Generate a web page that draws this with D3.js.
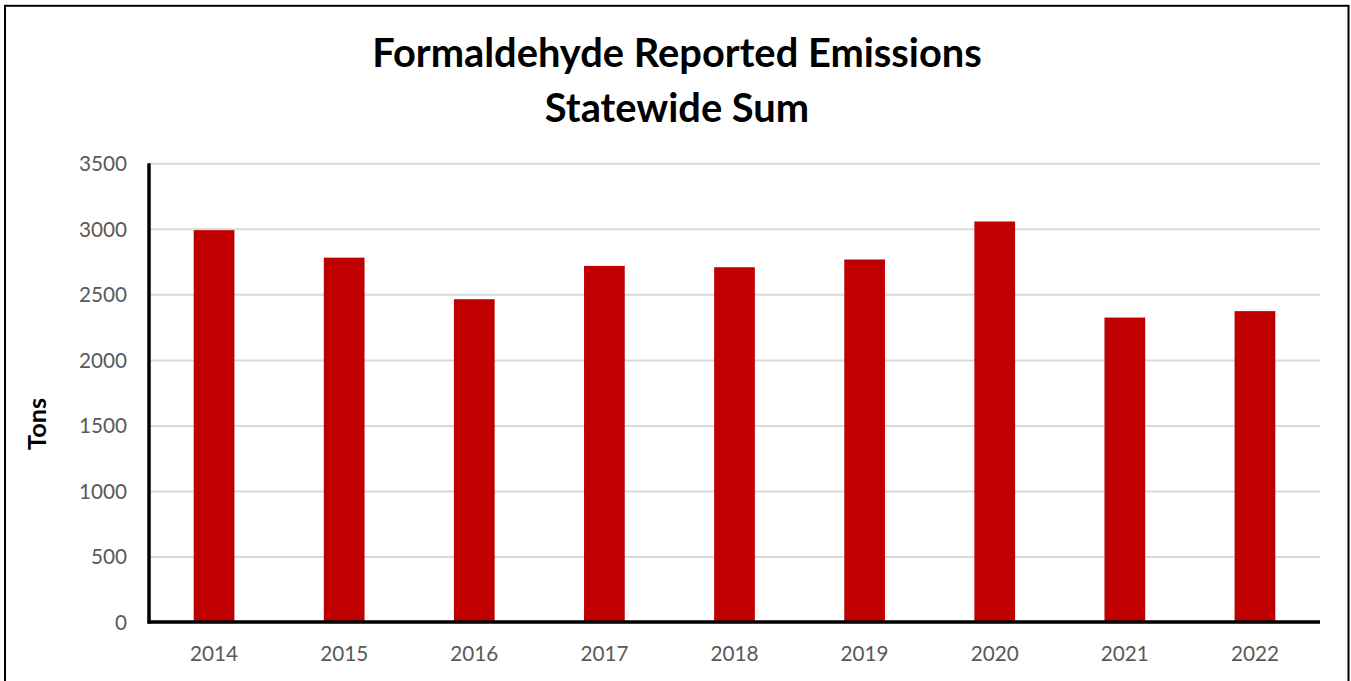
<!DOCTYPE html>
<html>
<head>
<meta charset="utf-8">
<script src="https://cdn.jsdelivr.net/npm/d3@7"></script>
<style>
  html, body { margin: 0; padding: 0; background: #fff; }
  svg { display: block; }
</style>
</head>
<body>
<svg id="chart" width="1351" height="681"></svg>
<script>
// Annual statewide formaldehyde emissions (tons)
const years = ["2014", "2015", "2016", "2017", "2018", "2019", "2020", "2021", "2022"];
const tons = [2990, 2780, 2463, 2717, 2707, 2766, 3056, 2323, 2372];
const yTicks = [0, 500, 1000, 1500, 2000, 2500, 3000, 3500];
const titleLines = ["Formaldehyde Reported Emissions", "Statewide Sum"];
const yTitle = "Tons";

const W = 1351, H = 681;
const plot = { left: 149, right: 1320, top: 163.3, bottom: 622 };
const FONT = "Lato, 'Open Sans', sans-serif";

const svg = d3.select("#chart");

// Size a text element so that it spans a given width
function fitWidth(sel, target) {
  const node = sel.node();
  const fs = parseFloat(sel.attr("font-size"));
  const w = node.getComputedTextLength();
  if (w > 0) sel.attr("font-size", (fs * target / w).toFixed(2));
}

// Outer frame
svg.append("rect")
  .attr("x", 5).attr("y", 5.8)
  .attr("width", 1343.5).attr("height", 700)
  .attr("fill", "none").attr("stroke", "#000").attr("stroke-width", 2);

const x = d3.scaleBand()
  .domain(years)
  .range([plot.left, plot.right])
  .paddingInner(0.687)
  .paddingOuter(0.3435);

const y = d3.scaleLinear()
  .domain([0, 3500])
  .range([plot.bottom, plot.top]);

// Horizontal gridlines
const grid = svg.append("g")
  .attr("transform", `translate(${plot.left},0)`)
  .call(d3.axisLeft(y).tickValues(yTicks).tickSize(-(plot.right - plot.left)).tickFormat(""));
grid.select(".domain").remove();
grid.selectAll(".tick line").attr("stroke", "#d9d9d9").attr("stroke-width", 2);

// Bars
svg.append("g").selectAll("rect")
  .data(years.map((yr, i) => ({ yr, v: tons[i] })))
  .join("rect")
  .attr("x", d => x(d.yr))
  .attr("width", x.bandwidth())
  .attr("y", d => y(d.v))
  .attr("height", d => y(0) - y(d.v))
  .attr("fill", "#c00000");

// Y axis labels
const yAxis = svg.append("g")
  .attr("transform", `translate(${plot.left},0)`)
  .call(d3.axisLeft(y).tickValues(yTicks).tickFormat(d3.format("d")).tickSize(0).tickPadding(22));
yAxis.select(".domain").remove();
yAxis.selectAll("text")
  .attr("font-family", FONT).attr("font-size", 20.7)
  .attr("fill", "#595959").attr("dy", "0.36em");

// X axis labels
const xAxis = svg.append("g")
  .attr("transform", `translate(0,${plot.bottom})`)
  .call(d3.axisBottom(x).tickSize(0));
xAxis.select(".domain").remove();
xAxis.selectAll("text")
  .attr("font-family", FONT).attr("font-size", 20.7)
  .attr("fill", "#595959").attr("y", 39).attr("dy", 0);

// Axis lines
svg.append("line")
  .attr("x1", plot.left).attr("x2", plot.left)
  .attr("y1", plot.top).attr("y2", plot.bottom + 1.5)
  .attr("stroke", "#000").attr("stroke-width", 3.5);
svg.append("line")
  .attr("x1", plot.left - 1.5).attr("x2", plot.right)
  .attr("y1", plot.bottom).attr("y2", plot.bottom)
  .attr("stroke", "#000").attr("stroke-width", 3.5);

// Y axis title
const yt = svg.append("text")
  .attr("transform", "translate(46,424) rotate(-90)")
  .attr("text-anchor", "middle")
  .attr("font-family", FONT).attr("font-weight", "bold")
  .attr("font-size", 22).attr("fill", "#000")
  .text(yTitle);
fitWidth(yt, 52);

// Chart title, both lines at the size that fits the first line
const titleY = [66.5, 121.5];
const t0 = svg.append("text")
  .attr("x", 677).attr("y", titleY[0])
  .attr("text-anchor", "middle")
  .attr("font-family", FONT).attr("font-weight", "bold")
  .attr("font-size", 40).attr("fill", "#000")
  .text(titleLines[0]);
fitWidth(t0, 610);
svg.append("text")
  .attr("x", 677).attr("y", titleY[1])
  .attr("text-anchor", "middle")
  .attr("font-family", FONT).attr("font-weight", "bold")
  .attr("font-size", t0.attr("font-size")).attr("fill", "#000")
  .text(titleLines[1]);
</script>
</body>
</html>
